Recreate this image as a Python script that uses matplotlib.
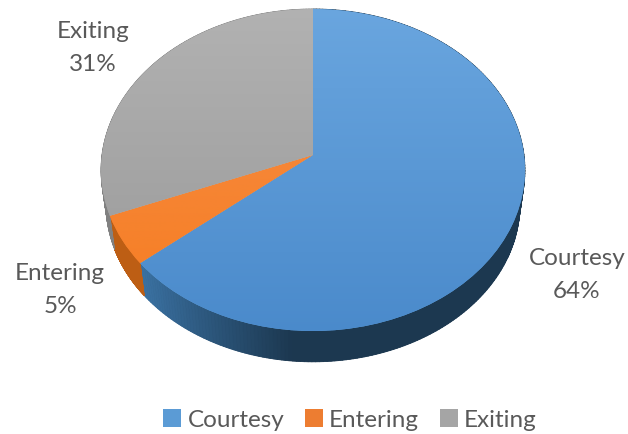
#!/usr/bin/env python3

import numpy as np
import matplotlib
matplotlib.use('Agg')
import matplotlib.pyplot as plt
from matplotlib.collections import PolyCollection
from matplotlib.colors import LinearSegmentedColormap, to_rgb
from matplotlib.patches import Patch
from matplotlib.transforms import Transform

categories = ['Courtesy', 'Entering', 'Exiting']
shares = [64, 5, 31]

legend_colors = ['#5b9bd5', '#ed7d31', '#a5a5a5']
top_gradients = [('#6aa6df', '#4a8acb'), ('#f68f4b', '#f67c1f'), ('#b2b2b2', '#989898')]
side_gradients = [('#1c3850', '#3c74a6'), ('#a9540f', '#d0681a'), ('#777777', '#8a8a8a')]
label_centers = [(577, 275), (60, 290), (93, 48)]

TILT = 0.0932
CX = 313


class Tilted(Transform):
    # projects the unit disc onto the picture, so the far half comes out smaller
    input_dims = output_dims = 2

    def __init__(self, apex_y, a, b):
        super().__init__()
        self.apex_y, self.a, self.b = apex_y, a, b

    def transform_non_affine(self, xy):
        xy = np.asarray(xy, dtype=float)
        w = 1 + TILT * xy[:, 1]
        return np.column_stack((CX + self.a * xy[:, 0] / w,
                                self.apex_y - self.b * xy[:, 1] / w))


def main():
    plt.rcParams['font.family'] = ['Lato', 'DejaVu Sans']
    fig = plt.figure(figsize=(6.28, 4.34), dpi=100)
    ax = fig.add_axes([0, 0, 1, 1])

    top = Tilted(155, 211, 159.6)
    bottom = Tilted(190, 206, 155.8)

    wedges, _ = ax.pie(shares, startangle=90, counterclock=False, colors=legend_colors)

    for wedge, grad, side in zip(wedges, top_gradients, side_gradients):
        wedge.set_transform(top + ax.transData)
        wedge.set_zorder(3)
        wedge.set_linewidth(0)

        # outer wall, cut into thin strips so the shade can change along it
        angles = np.radians(np.linspace(wedge.theta1, wedge.theta2, 240))
        rim = np.column_stack((np.cos(angles), np.sin(angles)))
        upper = top.transform(rim)
        lower = bottom.transform(rim)
        dark, light = np.array(to_rgb(side[0])), np.array(to_rgb(side[1]))
        if wedge is wedges[0]:
            # lit toward the left of the front, dark at the bottom and right
            lit = np.clip((-rim[:-1, 0] - 0.1) / 0.7, 0, 1) * (rim[:-1, 1] < 0.5)
            shades = dark + (light - dark) * lit[:, None]
        else:
            shades = np.tile((dark + light) / 2, (len(rim) - 1, 1))

        # solid wall underneath, so the seams between strips do not show white
        wall = np.vstack((upper, lower[::-1]))
        ax.fill(wall[:, 0], wall[:, 1], color=shades[0] if wedge is not wedges[0] else dark,
                lw=0, zorder=1.5)
        strips = [[upper[i], upper[i + 1], lower[i + 1], lower[i]] for i in range(len(rim) - 1)]
        ax.add_collection(PolyCollection(strips, facecolors=shades, edgecolors=shades,
                                         linewidths=0.6, zorder=2))

        cmap = LinearSegmentedColormap.from_list('face', grad)
        img = ax.imshow(np.linspace(0, 1, 256).reshape(-1, 1), cmap=cmap, aspect='auto',
                        extent=(95, 530, 335, 5), zorder=4)
        img.set_clip_path(wedge)

    for name, share, (x, y) in zip(categories, shares, label_centers):
        ax.text(x, y, f'{name}\n{share}%', ha='center', va='center', fontsize=17.5,
                color='#595959', linespacing=1.7, zorder=5)

    handles = [Patch(facecolor=c, label=n) for c, n in zip(legend_colors, categories)]
    ax.legend(handles=handles, loc='center', bbox_to_anchor=(350, 420),
              bbox_transform=ax.transData, ncol=3, frameon=False, fontsize=17.5,
              labelcolor='#595959', handlelength=0.75, handleheight=0.75,
              handletextpad=0.25, columnspacing=0.85, borderpad=0)

    ax.set_aspect('auto')
    ax.set_xlim(0, 628)
    ax.set_ylim(434, 0)
    ax.axis('off')
    fig.savefig('out.png', dpi=100)


if __name__ == '__main__':
    main()
